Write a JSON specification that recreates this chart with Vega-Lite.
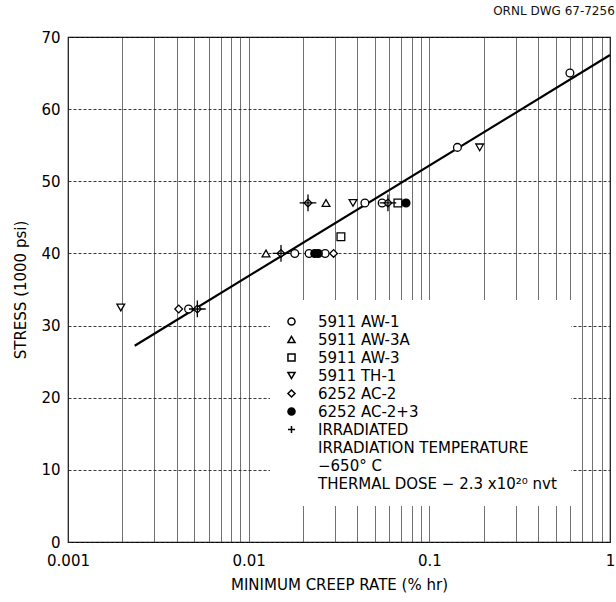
{
  "$schema": "https://vega.github.io/schema/vega-lite/v6.json",
  "width": 542,
  "height": 505,
  "padding": {"left": 13, "top": 5, "right": 2, "bottom": 5},
  "background": "white",
  "title": {"text": "ORNL DWG 67-7256", "anchor": "end", "font": "DejaVu Sans", "fontSize": 12, "fontWeight": "normal", "color": "#111", "offset": 12},
  "config": {
    "view": {"stroke": "#000", "strokeWidth": 1.2},
    "font": "DejaVu Sans"
  },
  "datasets": {
    "points": [
      {"rate": 0.0180, "stress": 40, "series": "5911 AW-1", "irradiated": false},
      {"rate": 0.0216, "stress": 40, "series": "5911 AW-1", "irradiated": false},
      {"rate": 0.0265, "stress": 40, "series": "5911 AW-1", "irradiated": false},
      {"rate": 0.044, "stress": 47, "series": "5911 AW-1", "irradiated": false},
      {"rate": 0.0548, "stress": 47, "series": "5911 AW-1", "irradiated": false},
      {"rate": 0.143, "stress": 54.7, "series": "5911 AW-1", "irradiated": false},
      {"rate": 0.60, "stress": 65, "series": "5911 AW-1", "irradiated": false},
      {"rate": 0.00465, "stress": 32.3, "series": "5911 AW-1", "irradiated": false},
      {"rate": 0.01247, "stress": 40, "series": "5911 AW-3A", "irradiated": false},
      {"rate": 0.0268, "stress": 47, "series": "5911 AW-3A", "irradiated": false},
      {"rate": 0.0324, "stress": 42.3, "series": "5911 AW-3", "irradiated": false},
      {"rate": 0.067, "stress": 47, "series": "5911 AW-3", "irradiated": false},
      {"rate": 0.00196, "stress": 32.5, "series": "5911 TH-1", "irradiated": false},
      {"rate": 0.0378, "stress": 47, "series": "5911 TH-1", "irradiated": false},
      {"rate": 0.19, "stress": 54.7, "series": "5911 TH-1", "irradiated": false},
      {"rate": 0.0041, "stress": 32.3, "series": "6252 AC-2", "irradiated": false},
      {"rate": 0.0052, "stress": 32.3, "series": "6252 AC-2", "irradiated": true},
      {"rate": 0.0151, "stress": 40, "series": "6252 AC-2", "irradiated": true},
      {"rate": 0.0295, "stress": 40, "series": "6252 AC-2", "irradiated": false},
      {"rate": 0.0213, "stress": 47, "series": "6252 AC-2", "irradiated": true},
      {"rate": 0.059, "stress": 47, "series": "6252 AC-2", "irradiated": true},
      {"rate": 0.0232, "stress": 40, "series": "6252 AC-2+3", "irradiated": false},
      {"rate": 0.0243, "stress": 40, "series": "6252 AC-2+3", "irradiated": false},
      {"rate": 0.0743, "stress": 47, "series": "6252 AC-2+3", "irradiated": false}
    ],
    "fit": [
      {"rate": 0.00234, "stress": 27.2},
      {"rate": 1, "stress": 67.5}
    ]
  },
  "encoding": {
    "x": {
      "field": "rate", "type": "quantitative",
      "scale": {"type": "log", "domain": [0.001, 1], "nice": false},
      "axis": {
        "title": "MINIMUM CREEP RATE (% hr)",
        "values": [0.001,0.002,0.003,0.004,0.005,0.006,0.007,0.008,0.009,0.01,0.02,0.03,0.04,0.05,0.06,0.07,0.08,0.09,0.1,0.2,0.3,0.4,0.5,0.6,0.7,0.8,0.9,1],
        "format": "~g",
        "labelExpr": "test(/^(0\\.001|0\\.01|0\\.1|1)$/, datum.label) ? datum.label : ''",
        "ticks": false, "domain": false,
        "grid": true, "gridColor": "#333", "gridWidth": 0.7, "gridOpacity": 1,
        "labelFontSize": 15, "labelColor": "#000", "labelPadding": 11, "labelFlush": false,
        "titleFontSize": 15, "titleFontWeight": "normal", "titleColor": "#000", "titlePadding": 9
      }
    },
    "y": {
      "field": "stress", "type": "quantitative",
      "scale": {"domain": [0, 70], "nice": false},
      "axis": {
        "title": "STRESS (1000 psi)",
        "values": [0,10,20,30,40,50,60,70],
        "ticks": false, "domain": false,
        "grid": true, "gridColor": "#222", "gridWidth": 0.9, "gridDash": [3, 2], "gridOpacity": 1,
        "labelFontSize": 15, "labelColor": "#000", "labelPadding": 8,
        "titleFontSize": 15, "titleFontWeight": "normal", "titleColor": "#000", "titlePadding": 12
      }
    }
  },
  "layer": [
    {
      "data": {"name": "fit"},
      "mark": {"type": "line", "color": "#000", "strokeWidth": 2.2},
      "encoding": {}
    },
    {
      "data": {"name": "points"},
      "mark": {"type": "point", "filled": true, "stroke": "#000", "strokeWidth": 1.3, "size": 60, "opacity": 1},
      "encoding": {
        "shape": {
          "field": "series", "type": "nominal",
          "scale": {
            "domain": ["5911 AW-1", "5911 AW-3A", "5911 AW-3", "5911 TH-1", "6252 AC-2", "6252 AC-2+3", "IRRADIATED", "IRRADIATION TEMPERATURE", "−650° C", "THERMAL DOSE − 2.3 x10²⁰ nvt"],
            "range": ["circle", "triangle-up", "square", "triangle-down", "diamond", "circle", "M-1,0H1M0,-1V1", "M0,0", "M0,0", "M0,0"]
          },
          "legend": {
            "title": null, "orient": "none", "legendX": 202, "legendY": 263,
            "fillColor": "white", "padding": 14, "symbolSize": 50,
            "labelFont": "DejaVu Sans", "labelFontSize": 15, "labelColor": "#000", "labelOffset": 19, "labelLimit": 400,
            "rowPadding": 2,
            "encode": {"symbols": {"update": {"stroke": {"value": "#000"}, "strokeWidth": {"value": 1.3}, "opacity": {"value": 1}}}}
          }
        },
        "fill": {
          "field": "series", "type": "nominal",
          "scale": {
            "domain": ["5911 AW-1", "5911 AW-3A", "5911 AW-3", "5911 TH-1", "6252 AC-2", "6252 AC-2+3", "IRRADIATED", "IRRADIATION TEMPERATURE", "−650° C", "THERMAL DOSE − 2.3 x10²⁰ nvt"],
            "range": ["white", "white", "white", "white", "white", "black", "white", "white", "white", "white"]
          },
          "legend": null
        }
      }
    },
    {
      "data": {"name": "points"},
      "transform": [{"filter": "datum.irradiated"}],
      "mark": {"type": "point", "shape": "M-1,0H1M0,-1V1", "filled": false, "stroke": "#000", "strokeWidth": 1.3, "size": 280, "opacity": 1},
      "encoding": {}
    }
  ]
}
